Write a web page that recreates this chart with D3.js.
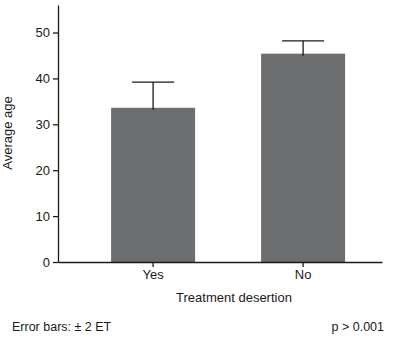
<!DOCTYPE html>
<html>
<head>
<meta charset="utf-8">
<script src="https://cdn.jsdelivr.net/npm/d3@7"></script>
<style>
  body { margin: 0; background: #fff; }
  text { font-family: "Liberation Sans", Arial, sans-serif; fill: #1a1a1a; }
</style>
</head>
<body>
<div id="chart"></div>
<script>
const categories = ["Yes", "No"];
const meanAge = [33.6, 45.4];
const upperError = [39.2, 48.2];
const yTicks = [0, 10, 20, 30, 40, 50];

const chartW = 394, chartH = 340;
const plotLeft = 58, plotRight = 382, plotTop = 5, plotBottom = 262;

const svg = d3.select("#chart").append("svg")
    .attr("width", chartW)
    .attr("height", chartH);

const x = d3.scaleBand()
    .domain(categories)
    .range([plotLeft, plotRight])
    .paddingInner(0.44)
    .paddingOuter(0.3)
    .align(0.59);

const y = d3.scaleLinear()
    .domain([0, 56])
    .range([plotBottom, plotTop]);

// bars
svg.selectAll(".bar")
    .data(categories)
    .enter()
    .append("rect")
    .attr("class", "bar")
    .attr("x", d => x(d))
    .attr("y", (d, i) => y(meanAge[i]))
    .attr("width", x.bandwidth())
    .attr("height", (d, i) => y(0) - y(meanAge[i]))
    .attr("fill", "#6d6e70");

// error bars (upper half only)
const capHalf = 21;
const err = svg.selectAll(".err")
    .data(categories)
    .enter()
    .append("g")
    .attr("class", "err")
    .attr("stroke", "#1a1a1a")
    .attr("stroke-width", 1.3);
err.append("line")
    .attr("x1", d => x(d) + x.bandwidth() / 2)
    .attr("x2", d => x(d) + x.bandwidth() / 2)
    .attr("y1", (d, i) => y(meanAge[i]) + 2)
    .attr("y2", (d, i) => y(upperError[i]));
err.append("line")
    .attr("x1", d => x(d) + x.bandwidth() / 2 - capHalf)
    .attr("x2", d => x(d) + x.bandwidth() / 2 + capHalf)
    .attr("y1", (d, i) => y(upperError[i]))
    .attr("y2", (d, i) => y(upperError[i]));

// axes
const yAxis = svg.append("g")
    .attr("transform", "translate(" + plotLeft + ",0)")
    .call(d3.axisLeft(y).tickValues(yTicks).tickSize(5).tickSizeOuter(0).tickPadding(3));
const xAxis = svg.append("g")
    .attr("transform", "translate(0," + plotBottom + ")")
    .call(d3.axisBottom(x).tickSize(5).tickSizeOuter(0).tickPadding(3));

[yAxis, xAxis].forEach(a => {
    a.select(".domain").attr("stroke", "#1a1a1a").attr("stroke-width", 1.3);
    a.selectAll(".tick line").attr("stroke", "#1a1a1a").attr("stroke-width", 1.3);
    a.selectAll("text").attr("font-size", 13).attr("fill", "#1a1a1a")
        .attr("font-family", "Liberation Sans, Arial, sans-serif");
});

// axis titles
svg.append("text")
    .attr("transform", "translate(12,133) rotate(-90)")
    .attr("text-anchor", "middle")
    .attr("font-size", 13)
    .text("Average age");

svg.append("text")
    .attr("x", 234)
    .attr("y", 302)
    .attr("text-anchor", "middle")
    .attr("font-size", 13)
    .text("Treatment desertion");

// footnotes
svg.append("text")
    .attr("x", 12)
    .attr("y", 331)
    .attr("font-size", 12.5)
    .text("Error bars: \u00B1 2 ET");

svg.append("text")
    .attr("x", 384)
    .attr("y", 331)
    .attr("text-anchor", "end")
    .attr("font-size", 12.5)
    .text("p > 0.001");
</script>
</body>
</html>
